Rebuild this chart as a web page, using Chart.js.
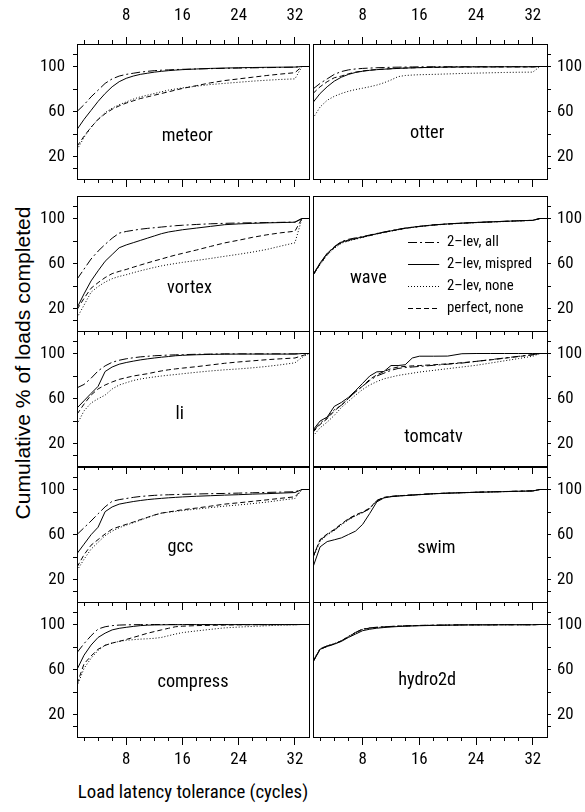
<!DOCTYPE html>
<html><head><meta charset="utf-8">
<script src="https://cdn.jsdelivr.net/npm/chart.js@4.4.1/dist/chart.umd.min.js"></script>
<style>
html,body{margin:0;padding:0;background:#fff;}
#wrap{position:relative;width:585px;height:812px;overflow:hidden;background:#fff;}
#wrap canvas{position:absolute;}
.ttl{position:absolute;color:#000;white-space:nowrap;text-align:center;}
</style></head><body>
<div id="wrap">
  <div class="ttl" id="xt">Load latency tolerance (cycles)</div>
  <div class="ttl" id="yt">Cumulative % of loads completed</div>
</div>
<script>
// ---------------- data ----------------
const X = [1,2,3,4,5,6,7,8,9,10,11,12,13,14,15,16,18,20,22,24,26,28,30,32,33,34];
const seriesNames = ['2\u2013lev, all','2\u2013lev, mispred','2\u2013lev, none','perfect, none'];
const xMajorTicks = [8,16,24,32];
const xMinorTicks = [2,4,6,8,10,12,14,16,18,20,22,24,26,28,30,32];
const yLabelTicks = [20,60,100];
const yAllTicks = [9,20,40,60,80,100,111];

const meteor_all     = [60,66,73,79,85,89,91.5,93,94,95,95.7,96.3,96.7,97,97.3,97.5,97.8,98.1,98.4,98.6,98.8,99,99.2,99.4,100,100];
const meteor_mispred = [44,53,61,69,76,82,86.5,89.5,91.5,93,94,95,95.7,96.3,96.8,97.2,97.8,98.3,98.6,98.9,99.1,99.3,99.4,99.5,100,100];
const meteor_none    = [26,37,46,53,59,63,66,68.5,71,73,74.5,76,77.5,79,80,81,82.5,84,85,86,87,87.8,88.5,89,100,100];
const meteor_perfect = [29,38,46,53,58,62,65,67.5,69.5,71.5,73,74.5,76,77.5,79,80.5,83,85.5,87.5,89,90.5,92,93.3,94.5,100,100];

const otter_all      = [80,85,89,93,95.5,97,97.8,98.3,98.6,98.9,99.1,99.3,99.4,99.5,99.6,99.7,99.8,99.8,99.8,99.8,99.8,99.8,99.8,99.8,100,100];
const otter_mispred  = [68,76,82,87,90.5,93,94.7,95.8,96.6,97.2,97.6,98,98.3,98.6,98.8,99,99.3,99.5,99.6,99.7,99.7,99.8,99.8,99.8,100,100];
const otter_none     = [54,64,70,73.5,76,78,79.5,80.7,82,83.5,85.5,88,91,92,92.4,92.7,93,93.4,93.8,94.1,94.4,94.7,94.9,95,100,100];
const otter_perfect  = [76,82,86.5,90,91.5,93.5,95,96,96.8,97.3,97.7,98,98.3,98.6,98.8,99,99.2,99.4,99.5,99.6,99.6,99.6,99.6,99.6,100,100];

const vortex_all     = [46,55,64,71,77,82.5,87,88.5,89.5,90.5,91.2,91.8,92.4,93,93.6,94,94.7,95.3,95.7,96,96.2,96.4,96.6,96.8,100,100];
const vortex_mispred = [20.5,33,44.5,53.5,62,68,74,76.5,78.5,80.5,82.5,84.5,86.5,88,89,90,91.5,93,94.5,95.2,95.7,96.1,96.4,96.7,100,100];
const vortex_none    = [11.7,23,34.5,39.5,43.5,46.5,48.5,50,51.8,53.5,55,56.5,57.9,59,60,61,62.7,64.5,66.4,68.2,70.2,72.5,75.5,78.4,100,100];
const vortex_perfect = [19,29,38,43,47.5,51,53,54.7,56.7,58.6,60.5,62.3,64,65.8,67.5,69,72,75.2,78.3,80.7,83.3,85.5,87.3,88.7,100,100];

const wave_all       = [50,60,69,75,79.5,81.5,82.8,84,85.3,86.7,88,89.2,90.4,91.5,92.3,93,94.3,95.2,95.9,96.5,97,97.5,98,98.4,100,100];
const wave_mispred   = [50,60.5,69,74.5,79,80.8,82.2,83.6,85,86.5,87.8,89,90.2,91.3,92.2,93,94.3,95.2,95.9,96.5,97,97.5,98,98.4,100,100];
const wave_none      = [49,59,67.5,73.5,78,80,81.6,83.2,84.7,86.2,87.5,88.8,90,91.2,92,92.8,94.1,95,95.7,96.3,96.8,97.3,97.8,98.3,100,100];
const wave_perfect   = [49.5,59.5,68,74,78.5,80.3,81.9,83.4,84.9,86.4,87.7,88.9,90.1,91.3,92.1,92.9,94.2,95.1,95.8,96.4,96.9,97.4,97.9,98.3,100,100];

const li_all         = [69.5,72.5,78,84.5,89,92.2,94,95.3,96.2,97,97.5,98,98.3,98.6,98.8,99,99.3,99.5,99.7,99.7,99.7,99.7,99.7,99.7,100,100];
const li_mispred     = [51.5,58,64.5,70.8,84,88,90.5,92,93.2,94.3,95.2,96,96.7,97.3,98,98.4,98.9,99.2,99.4,99.5,99.5,99.5,99.5,99.5,100,100];
const li_none        = [37,49,56,59.8,63,68.5,72,74,76,77.3,78.3,79.2,80,80.7,81.3,82,83.3,84.5,85.5,86.3,87.3,88.5,90,91.7,96.5,100];
const li_perfect     = [46,55,63,68.5,72,74.7,77,78.5,80,81,82,83.3,84.5,85.5,86.3,87,88.3,89.8,91.3,92.5,93.5,94.5,95.3,96,98,100];

const tomcatv_all     = [31,38,43,50,54,60,66,71,76,80,82.5,85,86.7,87.5,88,88.5,89.5,90.5,91.5,93,94.5,96,97.5,99,100,100];
const tomcatv_mispred = [32,40,43.5,53,56.5,61,67,73.5,80,83.7,84,89.3,89.3,90,96,97.6,97.6,97.7,99.8,100,100,100,100,100,100,100];
const tomcatv_none    = [26.5,34,39,45,52,57.5,63,68,72,75,77.5,79,80.5,81.5,82.5,83.5,85,86.5,88,89.5,91.5,93.5,95.5,97.6,100,100];
const tomcatv_perfect = [30,37,42,49,54,60,66,71,77,81,84,86.5,88,88.5,89,89.3,90,90.8,91.8,93,94.3,95.8,97.3,98.8,100,100];

const gcc_all        = [60,66,72,78.4,84.6,89.5,91,92,93,93.8,94.3,94.8,95.1,95.3,95.5,95.7,96,96.3,96.5,96.8,97.1,97.4,97.7,98,100,100];
const gcc_mispred    = [43,51.4,59.8,66.5,80.3,84.5,87,88.2,89.3,90.2,91,91.6,92.1,92.6,93,93.4,94,94.5,95,95.4,95.9,96.3,96.8,97.3,100,100];
const gcc_none       = [28,38,47,53,59,63,66,68.3,70.5,72.7,75,77.2,79,79.8,80.5,81.3,82.6,83.9,85.2,86.3,87.5,88.8,90.5,92,100,100];
const gcc_perfect    = [31,42,50.5,55.5,60.5,64.8,67,69,71,73.2,75.2,77.3,79,80,81,82,83.5,85.2,87,88.2,89.5,90.8,92.2,93.5,100,100];

const swim_all       = [40,55,60,64,69,73.5,77,79.5,83,90,92.8,93.8,94.3,94.7,95.1,95.5,96.3,96.8,97.2,97.6,97.9,98.2,98.5,98.8,100,100];
const swim_mispred   = [31,49,53.7,55.3,57,60,63,69,78.7,89,92.5,93.6,94.2,94.6,95,95.4,96.2,96.7,97.1,97.5,97.8,98.1,98.4,98.7,100,100];
const swim_none      = [39,54,59.5,63.5,68.5,73,76.5,79.5,83,90,92.8,93.7,94.2,94.6,95,95.4,96.2,96.7,97.1,97.5,97.8,98.1,98.4,98.7,100,100];
const swim_perfect   = [40,55.5,60.5,64.5,69.5,74,77.5,80,83.5,90.3,93,93.9,94.4,94.8,95.2,95.6,96.3,96.8,97.2,97.6,97.9,98.2,98.5,98.8,100,100];

const compress_all     = [75,83,90,96,98,99,99.5,99.7,99.8,99.9,99.9,100,100,100,100,100,100,100,100,100,100,100,100,100,100,100];
const compress_mispred = [60,72.7,81.7,88.5,92.3,95.2,96.6,97.5,98.3,99,99.4,99.6,99.7,99.8,99.8,99.9,99.9,99.9,99.9,99.9,99.9,99.9,99.9,99.9,100,100];
const compress_none    = [45,61,70,77,81.5,83.5,85,86,86.5,87,87.3,87.7,88.5,90,91.5,92.8,94.3,95.7,97,97.7,98.3,98.9,99.4,99.8,100,100];
const compress_perfect = [47,65,72,78,81.5,83.5,85,86.7,88.5,90.3,92.2,93.7,95.2,96.6,98,98.5,99,99.3,99.5,99.7,99.8,99.8,99.9,99.9,100,100];

const hydro2d_all     = [67,78.5,81,83,85.5,89.5,93,96,97,97.6,98,98.3,98.6,98.8,99,99.2,99.4,99.5,99.7,99.7,99.7,99.8,99.8,99.8,100,100];
const hydro2d_mispred = [66.5,78,80.5,82.5,85,88.5,91.5,94.5,95.8,96.7,97.3,97.8,98.2,98.5,98.7,98.9,99.2,99.4,99.6,99.7,99.7,99.8,99.8,99.8,100,100];
const hydro2d_none    = [67.5,78.5,81,83,85.5,89,92.5,95.5,96.6,97.3,97.8,98.2,98.5,98.7,98.9,99.1,99.3,99.5,99.6,99.7,99.7,99.8,99.8,99.8,100,100];
const hydro2d_perfect = [67,78,80.5,82.8,85.3,89.2,92.8,95.8,96.8,97.4,97.9,98.2,98.5,98.7,98.9,99.1,99.3,99.5,99.6,99.7,99.7,99.8,99.8,99.8,100,100];

// ---------------- fonts ----------------
const probe = document.createElement('canvas').getContext('2d');
function widthOf(text, fam, size) { probe.font = size + 'px ' + fam; return probe.measureText(text).width; }
function fontExists(name) {
  const t = 'abcdefghijklmnopqrstuvwxyz ABCDEFGHIJ 0123456789';
  return Math.abs(widthOf(t, "'" + name + "', monospace", 40) - widthOf(t, 'monospace', 40)) > 0.5;
}
const NARROW = ['Liberation Sans Narrow','Arial Narrow','Nimbus Sans Narrow','Noto Sans ExtraCondensed','Noto Sans Condensed','Roboto Condensed','Open Sans Condensed'].find(fontExists);
const FN = NARROW ? "'" + NARROW + "', 'Liberation Sans', sans-serif" : "'Liberation Sans', Arial, sans-serif";
const FR = "'Liberation Sans', Arial, sans-serif";
const fitSize = (text, fam, w) => +(w / widthOf(text, fam, 100) * 100).toFixed(1);
const TICK_SIZE  = fitSize('100', FN, 25);
const LABEL_SIZE = fitSize('meteor', FN, 51);
const LEG_SIZE   = fitSize('2\u2013lev, mispred', FN, 85);
const XT_SIZE    = fitSize('Load latency tolerance (cycles)', FN, 230);
const YT_SIZE    = fitSize('Cumulative % of loads completed', FR, 313);

// ---------------- layout / style ----------------
const COL_LEFT = [77, 313], COL_W = [232, 234];
const ROW_TOP = [44, 196, 331, 467, 602], ROW_H = 135;
const PAD = {left: 76, right: 42, top: 44, bottom: 42};
const X_MIN = 1, X_MAX = 34, Y_MIN = 0, Y_MAX = 120;
const DASHES = [[9,3,2,3], [], [1,2], [5,3]];

const panels = [
  {name:'meteor',  col:0,row:0, s:[meteor_all,meteor_mispred,meteor_none,meteor_perfect], lx:16.7, ly:38},
  {name:'otter',   col:1,row:0, s:[otter_all,otter_mispred,otter_none,otter_perfect], lx:17.1, ly:40.5},
  {name:'vortex',  col:0,row:1, s:[vortex_all,vortex_mispred,vortex_none,vortex_perfect], lx:17, ly:38},
  {name:'wave',    col:1,row:1, s:[wave_all,wave_mispred,wave_none,wave_perfect], lx:8.8, ly:47},
  {name:'li',      col:0,row:2, s:[li_all,li_mispred,li_none,li_perfect], lx:15.6, ly:46},
  {name:'tomcatv', col:1,row:2, s:[tomcatv_all,tomcatv_mispred,tomcatv_none,tomcatv_perfect], lx:18, ly:25.5},
  {name:'gcc',     col:0,row:3, s:[gcc_all,gcc_mispred,gcc_none,gcc_perfect], lx:15.7, ly:48.5},
  {name:'swim',    col:1,row:3, s:[swim_all,swim_mispred,swim_none,swim_perfect], lx:18.4, ly:48},
  {name:'compress',col:0,row:4, s:[compress_all,compress_mispred,compress_none,compress_perfect], lx:17.5, ly:48.5},
  {name:'hydro2d', col:1,row:4, s:[hydro2d_all,hydro2d_mispred,hydro2d_none,hydro2d_perfect], lx:17.1, ly:50.5}
];
panels[3].legend = true;

const useTicks = vals => (s => { s.ticks = vals.map(v => ({value: v})); });

function scaleDef(pos, opt) {
  const horiz = (pos === 'top' || pos === 'bottom');
  const size = opt.size || 0;
  return {
    type: 'linear', position: pos, axis: horiz ? 'x' : 'y', weight: opt.weight || 0,
    min: horiz ? X_MIN : Y_MIN, max: horiz ? X_MAX : Y_MAX,
    afterFit: s => { if (horiz) s.height = size; else s.width = size; },
    afterBuildTicks: useTicks(opt.ticks || []),
    border: {display: !!opt.border, color: '#000', width: 1},
    grid: {display: true, drawOnChartArea: false, drawTicks: !!opt.tl, tickLength: opt.tl || 0, color: '#000', lineWidth: 1},
    ticks: {
      display: !!opt.labels, autoSkip: false, maxRotation: 0, minRotation: 0,
      padding: opt.pad || 0, color: '#000',
      font: {family: FN, size: TICK_SIZE, lineHeight: 1.2},
      callback: v => (opt.labelSet ? (opt.labelSet.includes(v) ? String(v) : '') : String(v))
    }
  };
}

const panelLabel = {
  id: 'panelLabel',
  afterDatasetsDraw(chart, args, o) {
    const {ctx} = chart, xs = chart.scales.xb, ys = chart.scales.yl;
    ctx.save();
    ctx.font = LABEL_SIZE + 'px ' + FN; ctx.fillStyle = '#000';
    ctx.textAlign = 'center'; ctx.textBaseline = 'middle';
    ctx.fillText(o.text, xs.getPixelForValue(o.x), ys.getPixelForValue(o.y));
    ctx.restore();
  }
};
const innerLegend = {
  id: 'innerLegend',
  afterDatasetsDraw(chart, args, o) {
    if (!o || !o.show) return;
    const {ctx} = chart, xs = chart.scales.xb, ys = chart.scales.yl;
    chart.data.datasets.forEach((ds, i) => {
      const y = Math.round(ys.getPixelForValue(o.y0 - i * o.dy)) + 0.5;
      ctx.save();
      ctx.strokeStyle = '#000'; ctx.lineWidth = 1; ctx.setLineDash(ds.borderDash || []);
      ctx.beginPath(); ctx.moveTo(xs.getPixelForValue(o.x0), y); ctx.lineTo(xs.getPixelForValue(o.x1), y); ctx.stroke();
      ctx.setLineDash([]);
      ctx.font = LEG_SIZE + 'px ' + FN; ctx.fillStyle = '#000'; ctx.textAlign = 'left'; ctx.textBaseline = 'middle';
      ctx.fillText(ds.label, xs.getPixelForValue(o.xt), y);
      ctx.restore();
    });
  }
};

const wrap = document.getElementById('wrap');
panels.forEach(p => {
  const cv = document.createElement('canvas');
  const w = COL_W[p.col] + PAD.left + PAD.right, h = ROW_H + PAD.top + PAD.bottom;
  cv.width = w; cv.height = h;
  cv.style.width = w + 'px'; cv.style.height = h + 'px';
  cv.style.left = (COL_LEFT[p.col] - PAD.left) + 'px';
  cv.style.top = (ROW_TOP[p.row] - PAD.top) + 'px';
  wrap.appendChild(cv);
  const top = p.row === 0, bottom = p.row === 4, left = p.col === 0;
  new Chart(cv, {
    type: 'line',
    data: {
      datasets: p.s.map((arr, i) => ({
        label: seriesNames[i],
        data: X.map((x, k) => ({x: x, y: arr[k]})),
        borderColor: '#000', borderWidth: 1, borderDash: DASHES[i],
        pointRadius: 0, tension: 0, fill: false,
        xAxisID: 'xb', yAxisID: 'yl'
      }))
    },
    options: {
      responsive: false, animation: false, devicePixelRatio: 1,
      layout: {padding: 0},
      plugins: {
        legend: {display: false}, tooltip: {enabled: false},
        panelLabel: {text: p.name, x: p.lx, y: p.ly},
        innerLegend: {show: !!p.legend, x0: 14.4, x1: 18.8, xt: 19.9, y0: 79, dy: 19.4}
      },
      scales: {
        xb:  scaleDef('bottom', {weight: 0, border: true, ticks: xMinorTicks, tl: 4}),
        xbM: scaleDef('bottom', {weight: 1, size: PAD.bottom, ticks: xMajorTicks, tl: 8, labels: bottom, pad: 5}),
        xt:  scaleDef('top', {weight: 0, border: true, ticks: top ? xMinorTicks : [], tl: top ? 4 : 0}),
        xtM: scaleDef('top', {weight: 1, size: PAD.top, ticks: top ? xMajorTicks : [], tl: top ? 7 : 0, labels: top, pad: 11.5}),
        yl:  scaleDef('left', {size: PAD.left, border: true, ticks: left ? yAllTicks : [], tl: left ? 4 : 0, labels: left, labelSet: yLabelTicks, pad: 8}),
        yr:  scaleDef('right', {size: PAD.right, border: true, ticks: left ? [] : yAllTicks, tl: left ? 0 : 4, labels: !left, labelSet: yLabelTicks, pad: 6})
      }
    },
    plugins: [panelLabel, innerLegend]
  });
});

// titles
const xt = document.getElementById('xt');
xt.style.fontFamily = FN; xt.style.fontSize = XT_SIZE + 'px'; xt.style.lineHeight = '24px';
xt.style.width = '400px'; xt.style.left = (193 - 200) + 'px'; xt.style.top = (792 - 12) + 'px';
const yt = document.getElementById('yt');
yt.style.fontFamily = FR; yt.style.fontSize = YT_SIZE + 'px'; yt.style.lineHeight = '24px';
yt.style.width = '500px'; yt.style.left = (23 - 250) + 'px'; yt.style.top = (363 - 12) + 'px';
yt.style.transform = 'rotate(-90deg)';
</script>
</body></html>
